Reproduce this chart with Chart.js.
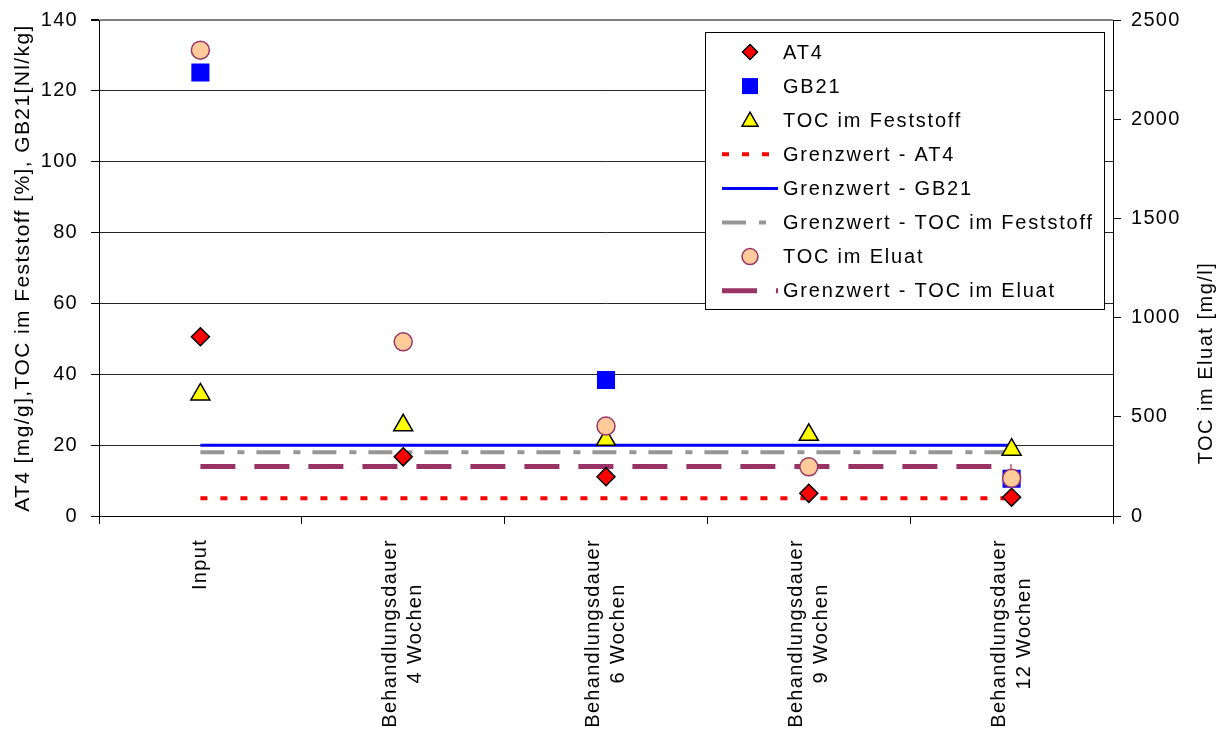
<!DOCTYPE html>
<html>
<head>
<meta charset="utf-8">
<script src="https://cdn.jsdelivr.net/npm/chart.js@4.4.0/dist/chart.umd.min.js"></script>
<style>
  html, body { margin: 0; padding: 0; background: #fff; }
  #wrap { width: 1226px; height: 731px; }
</style>
</head>
<body>
<div id="wrap"><canvas id="chart"></canvas></div>
<script>
// Kategorien (x-Achse), mehrzeilig
const kategorien = [
  ["Input"],
  ["Behandlungsdauer", "4 Wochen"],
  ["Behandlungsdauer", "6 Wochen"],
  ["Behandlungsdauer", "9 Wochen"],
  ["Behandlungsdauer", "12 Wochen"]
];

// Messwerte (linke Achse)
const at4 = [50.6, 16.7, 11.1, 6.4, 5.3];
const gb21 = [125.2, null, 38.4, null, 10.5];
const tocFeststoff = [34.3, 25.6, 21.5, 22.9, 18.7];
// Messwerte (rechte Achse)
const tocEluat = [2348, 878, 453, 248, 190];

// Grenzwerte
const grenzAT4 = [5, 5, 5, 5, 5];
const grenzGB21 = [20, 20, 20, 20, 20];
const grenzTOC = [18, 18, 18, 18, 18];
const grenzEluat = [250, 250, 250, 250, 250];

// Achsen
const linksMin = 0, linksMax = 140, linksSchritt = 20;
const rechtsMin = 0, rechtsMax = 2500, rechtsSchritt = 500;

const FONT = '"Liberation Sans", Arial, sans-serif';
Chart.defaults.font.family = FONT;
Chart.defaults.font.size = 20;
Chart.defaults.color = '#000';

// Legende im Diagramm (wie Excel)
const legendeEintraege = [
  { text: "AT4", typ: "raute" },
  { text: "GB21", typ: "quadrat" },
  { text: "TOC im Feststoff", typ: "dreieck" },
  { text: "Grenzwert - AT4", typ: "linie", farbe: "#ff0000", breite: 4, dash: [7, 13] },
  { text: "Grenzwert - GB21", typ: "linie", farbe: "#0000ff", breite: 3, dash: [] },
  { text: "Grenzwert - TOC im Feststoff", typ: "linie", farbe: "#969696", breite: 4, dash: [24, 13, 7, 12] },
  { text: "TOC im Eluat", typ: "kreis" },
  { text: "Grenzwert - TOC im Eluat", typ: "linie", farbe: "#993366", breite: 5, dash: [35, 19] }
];

// etwas breitere Schrift wie im Original
const schriftPlugin = {
  id: 'schrift',
  beforeDraw(chart) {
    chart.ctx.letterSpacing = '1.3px';
  }
};

const legendePlugin = {
  id: 'legendeBox',
  afterDraw(chart) {
    const ctx = chart.ctx;
    ctx.save();
    ctx.fillStyle = '#fff';
    ctx.fillRect(705, 32, 400, 278);
    ctx.strokeStyle = '#000';
    ctx.lineWidth = 1;
    ctx.strokeRect(705.5, 32.5, 399, 277);
    const sx = 750;
    legendeEintraege.forEach((e, i) => {
      const y = 52 + i * 34.1;
      ctx.save();
      if (e.typ === 'raute') {
        ctx.beginPath();
        ctx.moveTo(sx, y - 7.5); ctx.lineTo(sx + 7.5, y); ctx.lineTo(sx, y + 7.5); ctx.lineTo(sx - 7.5, y);
        ctx.closePath();
        ctx.fillStyle = '#ff0000'; ctx.fill();
        ctx.lineWidth = 1.5; ctx.strokeStyle = '#000'; ctx.stroke();
      } else if (e.typ === 'quadrat') {
        ctx.fillStyle = '#0000ff';
        ctx.fillRect(sx - 8, y - 8, 16, 16);
      } else if (e.typ === 'dreieck') {
        ctx.beginPath();
        ctx.moveTo(sx, y - 8); ctx.lineTo(sx + 8, y + 6); ctx.lineTo(sx - 8, y + 6);
        ctx.closePath();
        ctx.fillStyle = '#ffff00'; ctx.fill();
        ctx.lineWidth = 1.5; ctx.strokeStyle = '#000'; ctx.stroke();
      } else if (e.typ === 'kreis') {
        ctx.beginPath();
        ctx.arc(sx, y, 8, 0, Math.PI * 2);
        ctx.fillStyle = '#ffcc99'; ctx.fill();
        ctx.lineWidth = 1.5; ctx.strokeStyle = '#993366'; ctx.stroke();
      } else {
        ctx.beginPath();
        ctx.setLineDash(e.dash);
        ctx.lineWidth = e.breite;
        ctx.strokeStyle = e.farbe;
        ctx.moveTo(722, y); ctx.lineTo(778, y);
        ctx.stroke();
      }
      ctx.restore();
      ctx.fillStyle = '#000';
      ctx.font = '20px ' + FONT;
      ctx.letterSpacing = '1.8px';
      ctx.textBaseline = 'middle';
      ctx.textAlign = 'left';
      ctx.fillText(e.text, 783, y + 1);
    });
    ctx.restore();
  }
};

// x-Beschriftung gedreht, Zeilen zentriert + rechte Achsentitel
const beschriftungPlugin = {
  id: 'beschriftung',
  afterDraw(chart) {
    const ctx = chart.ctx;
    const xs = chart.scales.x;
    ctx.save();
    ctx.font = '20px ' + FONT;
    ctx.letterSpacing = '1.3px';
    ctx.fillStyle = '#000';
    ctx.textBaseline = 'middle';
    ctx.textAlign = 'center';
    kategorien.forEach((zeilen, i) => {
      const px = xs.getPixelForValue(i);
      const maxW = Math.max(...zeilen.map(z => ctx.measureText(z).width));
      ctx.save();
      ctx.translate(px, xs.top + 23);
      ctx.rotate(-Math.PI / 2);
      zeilen.forEach((z, j) => {
        ctx.fillText(z, -maxW / 2, (j - (zeilen.length - 1) / 2) * 25);
      });
      ctx.restore();
    });
    // Titel rechte Achse
    ctx.save();
    ctx.letterSpacing = '1.5px';
    ctx.translate(1206, 363);
    ctx.rotate(-Math.PI / 2);
    ctx.fillText("TOC im Eluat [mg/l]", 0, 0);
    ctx.restore();
    ctx.restore();
  }
};

// linker Achsentitel, etwas gesperrt wie im Original
const titelPlugin = {
  id: 'titelLinks',
  afterDraw(chart) {
    const ctx = chart.ctx;
    const ys = chart.scales.y;
    ctx.save();
    ctx.font = '21px ' + FONT;
    ctx.letterSpacing = '1.4px';
    ctx.fillStyle = '#000';
    ctx.textBaseline = 'middle';
    ctx.textAlign = 'center';
    ctx.translate(23, (ys.top + ys.bottom) / 2);
    ctx.rotate(-Math.PI / 2);
    ctx.fillText('AT4 [mg/g],TOC im Feststoff [%], GB21[Nl/kg]', 0, 0);
    ctx.restore();
  }
};

const labels = kategorien.map(k => k.join(' '));

// feste Achsenmasse, ohne automatischen Innenabstand
function festeBreite(breite) {
  return s => { s.width = breite; s.paddingTop = 0; s.paddingBottom = 0; };
}

new Chart(document.getElementById('chart'), {
  type: 'line',
  data: {
    labels: labels,
    datasets: [
      {
        label: 'AT4', data: at4, yAxisID: 'y', showLine: false, order: 3,
        pointStyle: 'rectRot', pointRadius: 9, pointBackgroundColor: '#ff0000',
        pointBorderColor: '#000', pointBorderWidth: 1.5
      },
      {
        label: 'GB21', data: gb21, yAxisID: 'y', showLine: false, order: 2,
        pointStyle: 'rect', pointRadius: 12.8, pointBackgroundColor: '#0000ff',
        pointBorderColor: '#0000ff', pointBorderWidth: 0
      },
      {
        label: 'TOC im Feststoff', data: tocFeststoff, yAxisID: 'y', showLine: false, order: 1,
        pointStyle: 'triangle', pointRadius: 11, pointBackgroundColor: '#ffff00',
        pointBorderColor: '#000', pointBorderWidth: 1.5
      },
      {
        label: 'Grenzwert - AT4', data: grenzAT4, yAxisID: 'y', order: 7,
        borderColor: '#ff0000', borderWidth: 4, borderDash: [7, 13], pointRadius: 0, fill: false
      },
      {
        label: 'Grenzwert - GB21', data: grenzGB21, yAxisID: 'y', order: 4,
        borderColor: '#0000ff', borderWidth: 3, pointRadius: 0, fill: false
      },
      {
        label: 'Grenzwert - TOC im Feststoff', data: grenzTOC, yAxisID: 'y', order: 5,
        borderColor: '#969696', borderWidth: 4, borderDash: [24, 13, 7, 12], pointRadius: 0, fill: false
      },
      {
        label: 'TOC im Eluat', data: tocEluat, yAxisID: 'y2', showLine: false, order: 0,
        pointStyle: 'circle', pointRadius: 9, pointBackgroundColor: '#ffcc99',
        pointBorderColor: '#993366', pointBorderWidth: 1.5
      },
      {
        label: 'Grenzwert - TOC im Eluat', data: grenzEluat, yAxisID: 'y2', order: 6,
        borderColor: '#993366', borderWidth: 5, borderDash: [35, 19], pointRadius: 0, fill: false
      }
    ]
  },
  options: {
    responsive: true,
    maintainAspectRatio: false,
    animation: false,
    layout: { autoPadding: false, padding: { top: 20, left: 0, right: 0, bottom: 0 } },
    plugins: { legend: { display: false }, tooltip: { enabled: false } },
    scales: {
      x: {
        offset: true,
        ticks: { display: false },
        grid: { offset: true, drawOnChartArea: false, drawTicks: true, tickLength: 8, color: '#000' },
        border: { color: '#000', width: 1 },
        afterFit: s => { s.height = 215; s.paddingLeft = 0; s.paddingRight = 0; }
      },
      y: {
        position: 'left',
        min: linksMin, max: linksMax,
        ticks: { stepSize: linksSchritt, padding: 13, font: { size: 20 } },
        grid: {
          color: c => (c.tick && c.tick.value === linksMax) ? '#808080' : '#262626',
          lineWidth: c => (c.tick && c.tick.value === linksMax) ? 2 : 1,
          tickColor: '#000', tickLength: 8
        },
        border: { color: '#000', width: 1 },
        afterFit: festeBreite(99)
      },
      y2: {
        position: 'right',
        min: rechtsMin, max: rechtsMax,
        ticks: { stepSize: rechtsSchritt, padding: 10, font: { size: 20 }, callback: v => String(v) },
        grid: { drawOnChartArea: false, tickColor: '#000', tickLength: 8 },
        border: { color: '#000', width: 1 },
        afterFit: festeBreite(113)
      }
    }
  },
  plugins: [schriftPlugin, legendePlugin, beschriftungPlugin, titelPlugin]
});
</script>
</body>
</html>
